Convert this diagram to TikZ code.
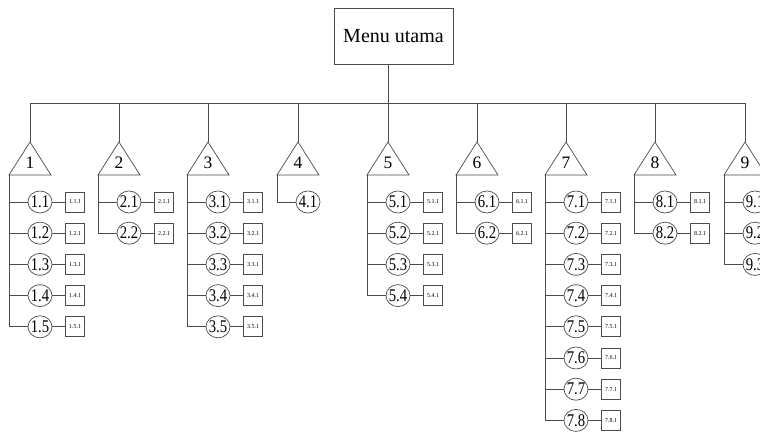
\documentclass[tikz,border=0pt]{standalone}
\usepackage{fontspec}
\setmainfont{Liberation Serif}
\usetikzlibrary{shapes.geometric}
\begin{document}
\begin{tikzpicture}[x=1pt,y=-1pt,
  ln/.style={draw=black!70, line width=0.7pt},
  menubox/.style={rectangle, draw=black!70, line width=0.7pt, minimum width=119pt, minimum height=56pt, inner sep=0pt, font=\fontsize{20}{20}\selectfont},
  trilabel/.style={inner sep=0pt, font=\fontsize{17.5}{17.5}\selectfont},
  sub/.style={ellipse, draw=black!70, line width=0.7pt, minimum width=24pt, minimum height=22pt, inner sep=0pt, font=\fontsize{15.5}{15.5}\selectfont},
  leaf/.style={rectangle, draw=black!70, line width=0.7pt, minimum width=19pt, minimum height=20pt, inner sep=0pt, font=\fontsize{6}{6}\selectfont}]
\useasboundingbox (0,0) rectangle (760,435);
\clip (0,0) rectangle (760,435);
\fill[white] (0,0) rectangle (760,435);
\node[menubox] (menu) at (393.5,36) {Menu utama};
\coordinate (bus) at (388,103);
\draw[ln] (menu.south -| bus) -- (bus);
\foreach \i/\A/\n in {1/30/5,2/119/2,3/208/5,4/298/1,5/388/4,6/477/2,7/566/8,8/655/2,9/745/3} {
  \coordinate (t\i a) at (\A,142);
  \coordinate (t\i l) at ({\A-21},175);
  \coordinate (t\i r) at ({\A+21},175);
  \draw[ln] (t\i a) -- (t\i r) -- (t\i l) -- cycle;
  \node[trilabel] (t\i) at (\A,163) {\i};
  \draw[ln] (t\i a) -- (t\i a |- bus);
  \foreach \k in {1,...,\n} {
    \node[sub] (c\i-\k) at ({\A+10},{202+31.2*(\k-1)}) {\makebox[0pt]{\scalebox{0.95}[1.15]{\i.\k}}};
    \draw[ln] (t\i l) |- (c\i-\k.west);
  }
}
\draw[ln] (t1a |- bus) -- (t9a |- bus);
\foreach \i/\A/\n in {1/30/5,2/119/2,3/208/5,5/388/4,6/477/2,7/566/8,8/655/2} {
  \foreach \k in {1,...,\n} {
    \node[leaf] (b\i-\k) at ({\A+45},{202+31.2*(\k-1)}) {\i.\k.1};
    \draw[ln] (c\i-\k.east) -- (b\i-\k.west);
  }
}
\end{tikzpicture}
\end{document}
